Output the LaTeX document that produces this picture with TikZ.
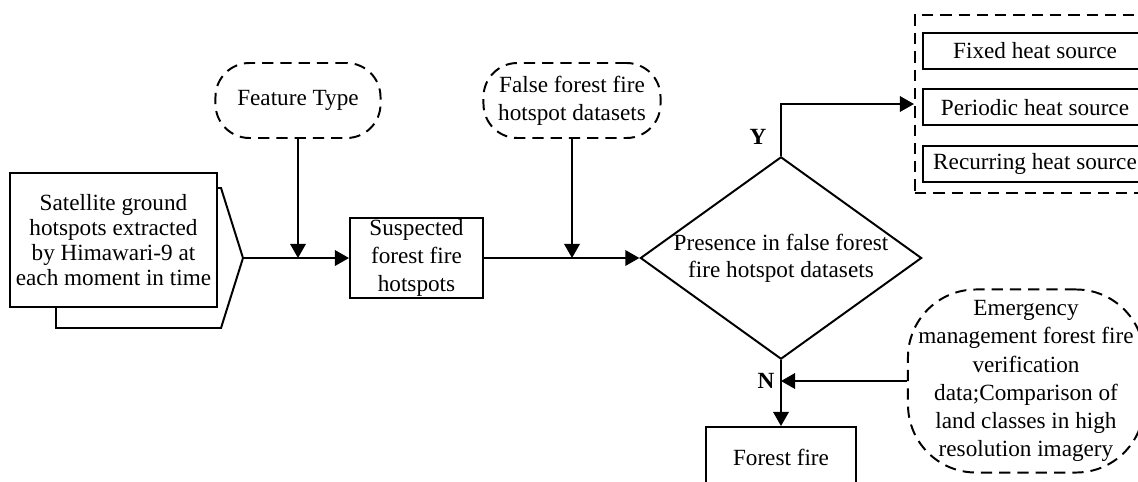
\documentclass[tikz,border=0pt]{standalone}
\usepackage{fontspec}
\setmainfont{Liberation Serif}
\usetikzlibrary{calc,arrows.meta,shapes.geometric,positioning}
\tikzset{proc/.style={draw, line width=1.4pt, rectangle, align=center, inner sep=1pt, font=\fontsize{16.5}{20}\selectfont},
  decide/.style={draw, line width=1.4pt, diamond, aspect=1.39, align=center, inner sep=0pt, minimum width=6.95cm, minimum height=5cm, font=\fontsize{16.5}{19}\selectfont},
  datasrc/.style={draw, line width=1.4pt, dash pattern=on 8pt off 5pt, rounded corners=#1, align=center, inner sep=1pt, font=\fontsize{16.5}{20}\selectfont},
  datasrc/.default=0.85cm,
  flow/.style={line width=1.4pt, -{Triangle[length=10pt,width=11pt]}},
  yn/.style={font=\bfseries\fontsize{16.5}{18}\selectfont}}

\begin{document}
\begin{tikzpicture}[x=0.025cm, y=-0.025cm]
    \useasboundingbox (0,0) rectangle (1138,481);
    % input document
    \node[proc, minimum width=5.175cm, minimum height=3.35cm, font=\fontsize{16.5}{17.8}\selectfont] (sat) at (113.5,240) {Satellite ground\\hotspots extracted\\by Himawari-9 at\\each moment in time};
    \coordinate (tip) at ($(sat.east)+(25,18)$);
    \draw[line width=1.4pt] ($(sat.north east)+(0,16)$) -- ++(3,0) -- (tip) -- ($(sat.south east)+(3,20)$) -- ($(sat.south west)+(47,20)$) -- ($(sat.south west)+(47,0)$);
    % main row
    \node[proc, minimum width=3.325cm, minimum height=2cm] (susp) at (416.5,258) {Suspected\\forest fire\\hotspots};
    \node[decide] (dec) at (781,258) {Presence in false forest\\fire hotspot datasets};
    \node[datasrc, minimum width=4.125cm, minimum height=1.875cm] (feat) at (298,100.5) {Feature Type};
    \node[datasrc, minimum width=4.425cm, minimum height=1.875cm] (fds) at (572,100.5) {False forest fire\\hotspot datasets};
    \draw[flow] (feat.south) -- (feat.south |- tip);
    \draw[flow] (tip) -- (susp.west);
    \draw[flow] (susp.east) -- (dec.west);
    \draw[flow] (fds.south) -- (fds.south |- dec.west);
    % Y branch
    \node[draw, line width=1.4pt, dash pattern=on 8pt off 5pt, minimum width=6cm, minimum height=4.45cm] (heatgrp) at (1035,104) {};
    \node[proc, minimum width=5.6cm, minimum height=0.9cm] (fixed) at (1035,51) {Fixed heat source};
    \node[proc, minimum width=5.6cm, minimum height=0.9cm, below=0.46cm of fixed] (periodic) {Periodic heat source};
    \node[proc, minimum width=5.6cm, minimum height=0.9cm, below=0.46cm of periodic] (recur) {Recurring heat source};
    \draw[flow] (dec.north) |- (heatgrp.west);
    \node[yn] (ylab) at (758,137) {Y};
    % N branch
    \node[proc, minimum width=3.75cm, minimum height=1.5cm] (fire) at (781,457) {Forest fire};
    \draw[flow] (dec.south) -- (fire.north);
    \node[datasrc=1.7cm, minimum width=5.9cm, minimum height=4.575cm] (emg) at (1026,381) {Emergency\\management forest fire\\verification\\data;Comparison of\\land classes in high\\resolution imagery};
    \draw[flow] (emg.west) -- (emg.west -| dec.south);
    \node[yn] (nlab) at (766,381) {N};
\end{tikzpicture}
\end{document}
